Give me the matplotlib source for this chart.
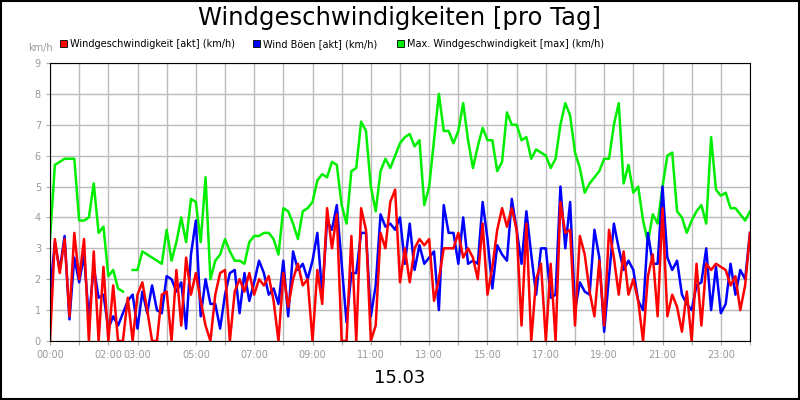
import numpy as np
import matplotlib
matplotlib.use("Agg")
import matplotlib.pyplot as plt
from matplotlib.patches import Rectangle

# 10-minute samples, 00:00 .. 24:00
wind_akt = [
    0, 3.3, 2.2, 3.3, 0.8, 3.5, 2.0, 3.3, 0, 2.9, 0, 2.4, 0, 1.8, 0, 0,
    1.4, 0, 1.5, 1.9, 1.0, 0, 0, 1.5, 1.6, 0, 2.3, 0.5, 2.7, 1.5, 2.2, 1.3,
    0.5, 0, 1.5, 2.2, 2.3, 0, 1.6, 2.0, 1.6, 2.2, 1.5, 2.0, 1.8, 2.1, 1.3,
    0, 2.2, 1.1, 2.0, 2.5, 1.8, 2.0, 0, 2.3, 1.2, 4.3, 3.0, 4.1, 0, 0, 3.4,
    0, 4.3, 3.6, 0, 0.5, 3.5, 3.0, 4.5, 4.9, 1.9, 3.0, 1.9, 3.0, 3.3, 3.1,
    3.3, 1.3, 2.0, 3.0, 3.0, 3.0, 3.5, 2.7, 3.0, 2.7, 2.0, 3.8, 1.5, 2.4,
    3.6, 4.3, 3.7,
    4.3, 3.6, 0.5, 3.8, 0, 2.0, 2.5, 0, 2.5, 0, 4.5, 3.5, 3.6, 0.5, 3.4,
    2.8, 1.6, 0.8, 2.6, 0.5, 3.6, 2.7, 1.5, 2.9, 1.5, 2.0, 1.3, 0, 2.1, 2.8,
    0.8, 4.3, 0.8, 1.5, 1.1, 0.3, 1.6, 0, 2.5, 0.5, 2.5, 2.3, 2.5, 2.4, 2.3,
    1.8, 2.1, 1.0, 1.8, 3.5,
]
wind_boeen = [
    1.5, 3.2, 2.3, 3.4, 0.7, 2.7, 1.9, 2.8, 0.7, 2.4, 1.4, 1.5, 0.4, 0.8,
    0.5, 0.9, 1.3, 1.5, 0.4, 1.6, 0.9, 1.8, 1.0, 0.9, 2.1, 2.0, 1.6, 1.9,
    0.4, 2.8, 3.9, 0.8, 2.0, 1.2, 1.2, 0.4, 1.5, 2.2, 2.3, 0.9, 2.2, 1.3,
    1.9, 2.6, 2.2, 1.5, 1.7,
    1.2, 2.6, 0.8, 2.9, 2.3, 2.5, 2.0, 2.6, 3.5, 1.5, 3.9, 3.6, 4.4, 2.5,
    0.6, 2.2, 2.2, 3.5, 3.5, 0.8, 1.8, 4.1, 3.7, 3.8, 3.6, 4.0, 2.5, 3.8,
    2.3, 3.1, 2.5, 2.7, 2.9, 1.0, 4.4, 3.5, 3.5, 2.5, 4.0, 2.5, 2.6, 2.5,
    4.5, 3.3, 1.7, 3.1, 2.8, 2.6,
    4.6, 3.6, 2.5, 4.2, 2.8, 1.5, 3.0, 3.0, 1.4, 1.5, 5.0, 3.0, 4.5, 1.0,
    1.9, 1.6, 1.5, 3.6, 2.7, 0.3, 2.1, 3.8, 3.0, 2.3, 2.6, 2.3, 1.3, 1.0,
    3.5, 2.5, 2.5, 5.0, 2.7, 2.3, 2.6, 1.5, 1.2, 1.0, 1.8, 1.9, 3.0, 1.0,
    2.4, 0.9, 1.2, 2.5, 1.5, 2.3, 2.0, 3.5,
]
wind_max = [
    3.3, 5.7, 5.8, 5.9, 5.9, 5.9, 3.9, 3.9, 4.0, 5.1, 3.5, 3.7, 2.1, 2.3,
    1.7, 1.6, np.nan, 2.3, 2.3, 2.9, 2.8, 2.7, 2.6, 2.5, 3.6, 2.6, 3.2, 4.0,
    3.2, 4.6, 4.5, 3.2, 5.3, 2.0, 2.6, 2.8, 3.3, 2.9, 2.6, 2.6, 2.5, 3.2,
    3.4, 3.4, 3.5, 3.5, 3.3,
    2.8, 4.3, 4.2, 3.8, 3.3, 4.2, 4.3, 4.5, 5.2, 5.4, 5.3, 5.8, 5.7, 4.4,
    3.8, 5.5, 5.6, 7.1, 6.8, 5.0, 4.2, 5.5, 5.9, 5.6, 6.0, 6.4, 6.6, 6.7,
    6.3, 6.5, 4.4, 5.0, 6.5, 8.0, 6.8, 6.8, 6.4, 6.8, 7.7, 6.5, 5.6, 6.3,
    6.9, 6.5, 6.5, 5.5, 5.8, 7.4,
    7.0, 7.0, 6.5, 6.6, 5.9, 6.2, 6.1, 6.0, 5.6, 5.9, 7.0, 7.7, 7.3, 6.1,
    5.6, 4.8, 5.1, 5.3, 5.5, 5.9, 5.9, 7.0, 7.7, 5.1, 5.7, 4.8, 5.0, 3.9,
    3.2, 4.1, 3.8, 5.0, 6.0, 6.1, 4.2, 4.0, 3.5, 3.9, 4.2, 4.4, 3.8, 6.6,
    4.9, 4.7, 4.8, 4.3, 4.3, 4.1, 3.9, 4.2,
]
tick_hours = [0, 2, 3, 5, 7, 9, 11, 13, 15, 17, 19, 21, 23]
tick_labels = ["%02d:00" % h for h in tick_hours]
series_names = ["Windgeschwindigkeit [akt] (km/h)", "Wind Böen [akt] (km/h)",
                "Max. Windgeschwindigkeit [max] (km/h)"]
colors = ["#ff0000", "#0000ff", "#00ee00"]

t = np.arange(len(wind_akt)) / 6.0

fig = plt.figure(figsize=(8, 4), dpi=100)
ax = fig.add_axes([0.0625, 0.1475, 0.875, 0.695])
ax.plot(t, wind_max, color=colors[2], lw=1.8)
ax.plot(t, wind_boeen, color=colors[1], lw=1.8)
ax.plot(t, wind_akt, color=colors[0], lw=1.8)

ax.set_xlim(0, 24)
ax.set_ylim(0, 9)
ax.set_xticks(range(25))
ax.set_xticklabels([tick_labels[tick_hours.index(h)] if h in tick_hours else "" for h in range(25)])
ax.set_yticks(range(10))
ax.grid(True, color="#bbbbbb", lw=1)
ax.set_axisbelow(True)
ax.tick_params(colors="#aaaaaa", labelsize=7, length=3)
for lab in ax.get_xticklabels() + ax.get_yticklabels():
    lab.set_color("#999999")
for s in ax.spines.values():
    s.set_color("black")

fig.text(0.5, 0.955, "Windgeschwindigkeiten [pro Tag]", ha="center", va="center", fontsize=17.5)
fig.text(0.035, 0.88, "km/h", fontsize=7, color="#999999", va="center")
fig.text(0.5, 0.055, "15.03", ha="center", va="center", fontsize=13)

legend_x = [0.075, 0.316, 0.496]
for x, name, c in zip(legend_x, series_names, colors):
    fig.patches.append(Rectangle((x, 0.882), 0.009, 0.018, transform=fig.transFigure,
                                 facecolor=c, edgecolor="black", lw=0.6))
    fig.text(x + 0.013, 0.89, name, fontsize=7, va="center")

fig.patches.append(Rectangle((0.001, 0.002), 0.998, 0.996, transform=fig.transFigure,
                             fill=False, edgecolor="black", lw=1.5))
fig.savefig("out.png", dpi=100)
